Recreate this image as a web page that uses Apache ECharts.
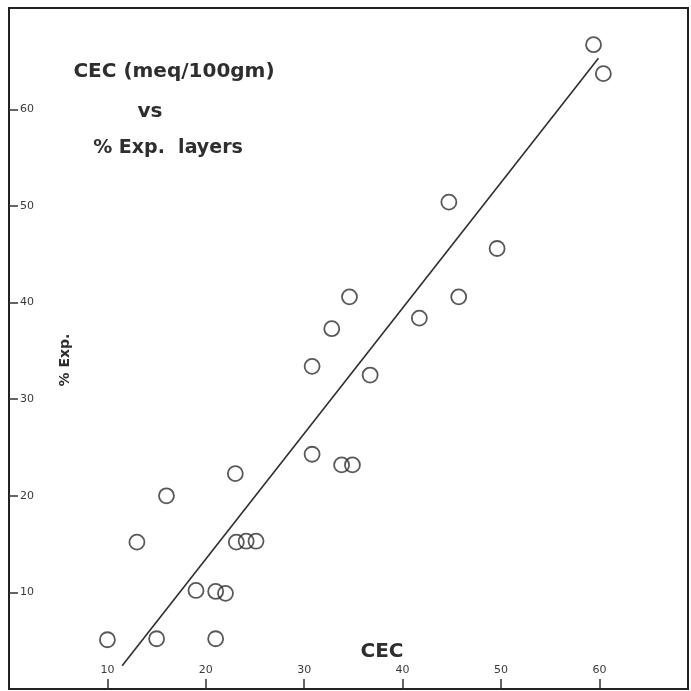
<!DOCTYPE html>
<html>
<head>
<meta charset="utf-8">
<script src="https://cdn.jsdelivr.net/npm/echarts@6/dist/echarts.min.js"></script>
<style>
html,body{margin:0;padding:0;background:#fff;}
#chart{width:691px;height:691px;}
</style>
</head>
<body>
<div id="chart"></div>
<script>
// CEC (meq/100gm) values
const cecValues = [10, 15, 21, 13, 16, 19, 21, 22, 23, 23.1, 24.1, 25.1, 30.8, 30.8, 32.8, 33.8, 34.9, 34.6, 36.7, 41.7, 44.7, 45.7, 49.6, 59.4, 60.4];
// % expandable layers
const expValues = [5.1, 5.2, 5.2, 15.2, 20, 10.2, 10.1, 9.9, 22.3, 15.2, 15.3, 15.3, 24.3, 33.4, 37.3, 23.2, 23.2, 40.6, 32.5, 38.4, 50.4, 40.6, 45.6, 66.7, 63.7];
// regression line end points
const fitLine = [[11.5, 2.4], [59.9, 65.3]];
const xTicks = [10, 20, 30, 40, 50, 60];
const yTicks = [10, 20, 30, 40, 50, 60];

const points = cecValues.map((v, i) => [v, expValues[i]]);
const ink = '#2e2e2e';
const chart = echarts.init(document.getElementById('chart'));
chart.setOption({
  backgroundColor: '#ffffff',
  animation: false,
  grid: { left: 9, right: 3, top: 8, bottom: 2, show: true, borderColor: '#222', borderWidth: 2 },
  xAxis: {
    type: 'value', min: 0, max: 69, interval: 10,
    axisLine: { show: true, lineStyle: { color: '#222', width: 2 } },
    axisTick: { inside: true, length: 10, customValues: xTicks, lineStyle: { color: '#333', width: 1.5 } },
    axisLabel: { inside: true, margin: 13, color: '#3a3a3a', fontSize: 11, fontFamily: 'DejaVu Sans',
      customValues: xTicks },
    splitLine: { show: false }
  },
  yAxis: {
    type: 'value', min: 0, max: 70.5, interval: 10,
    axisLine: { show: true, lineStyle: { color: '#222', width: 2 } },
    axisTick: { inside: true, length: 9, customValues: yTicks, lineStyle: { color: '#333', width: 1.5 } },
    axisLabel: { inside: true, margin: 11, color: '#3a3a3a', fontSize: 11, fontFamily: 'DejaVu Sans',
      customValues: yTicks },
    splitLine: { show: false }
  },
  graphic: [
    { type: 'text', x: 174, y: 72, style: { text: 'CEC (meq/100gm)', fill: ink, font: 'bold 20px "DejaVu Sans"', textAlign: 'center', textVerticalAlign: 'middle' } },
    { type: 'text', x: 150, y: 112, style: { text: 'vs', fill: ink, font: 'bold 20px "DejaVu Sans"', textAlign: 'center', textVerticalAlign: 'middle' } },
    { type: 'text', x: 168, y: 148, style: { text: '% Exp.  layers', fill: ink, font: 'bold 19px "DejaVu Sans"', textAlign: 'center', textVerticalAlign: 'middle' } },
    { type: 'text', x: 382, y: 652, style: { text: 'CEC', fill: ink, font: 'bold 20px "DejaVu Sans"', textAlign: 'center', textVerticalAlign: 'middle' } },
    { type: 'text', x: 65, y: 360, rotation: Math.PI / 2, style: { text: '% Exp.', fill: ink, font: 'bold 14px "DejaVu Sans"', textAlign: 'center', textVerticalAlign: 'middle' } }
  ],
  series: [
    { type: 'line', data: fitLine, symbol: 'none', lineStyle: { color: ink, width: 1.6 }, silent: true },
    { type: 'scatter', data: points, symbol: 'circle', symbolSize: 15,
      itemStyle: { color: 'rgba(0,0,0,0)', borderColor: ink, borderWidth: 1.8 } }
  ]
});
</script>
</body>
</html>
